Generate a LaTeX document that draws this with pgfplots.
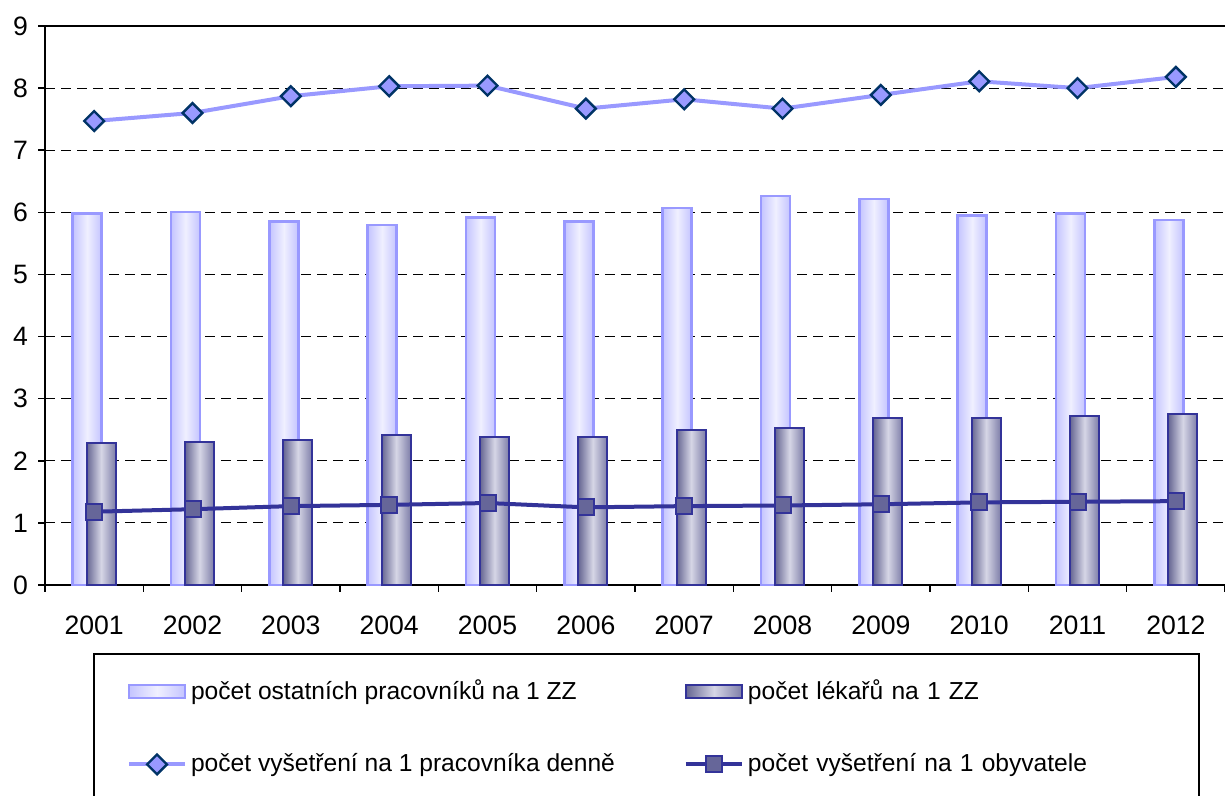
\documentclass[border=0pt]{standalone}
\usepackage{pgfplots}
\usepackage{pgfplotstable}
\pgfplotsset{compat=1.18}
\usepackage{fontspec}
\setmainfont{Liberation Sans}
\definecolor{lightbar}{HTML}{9999FF}
\definecolor{lightedge}{HTML}{C4C4FF}
\definecolor{lightmid}{HTML}{F0F0FF}
\definecolor{darkedge}{HTML}{333399}
\definecolor{darkL}{HTML}{666692}
\definecolor{darkmid}{HTML}{D6D6E6}
\definecolor{darkR}{HTML}{7E7EA8}
\definecolor{diamfill}{HTML}{9999FF}
\definecolor{diamdraw}{HTML}{003366}
\definecolor{sqfill}{HTML}{666699}

\pgfplotsset{
  lightstyle/.style={ybar, bar width=14.5pt, bar shift=-3.5pt, draw=lightbar, line width=1.2pt,
    left color=lightedge, right color=lightedge, middle color=lightmid},
  darkstyle/.style={ybar, bar width=14.5pt, bar shift=3.5pt, draw=darkedge, line width=1pt,
    left color=darkL, right color=darkR, middle color=darkmid},
  barlegend/.style={legend image code/.code={\draw[##1] (0pt,-3.25pt) rectangle (28pt,3.25pt);}},
  linelegend/.style={legend image code/.code={\draw[##1, mark repeat=2, mark phase=2] plot coordinates {(0pt,0pt) (14pt,0pt) (28pt,0pt)};}},
}

\pgfplotstableread{
x light dark exam pop
0  5.98 2.28 7.47 1.18
1  6.01 2.31 7.60 1.22
2  5.85 2.33 7.87 1.27
3  5.80 2.41 8.03 1.29
4  5.92 2.38 8.04 1.32
5  5.85 2.39 7.67 1.25
6  6.07 2.49 7.82 1.27
7  6.26 2.53 7.67 1.28
8  6.21 2.69 7.89 1.30
9  5.95 2.69 8.11 1.33
10 5.98 2.72 8.00 1.34
11 5.88 2.75 8.18 1.35
}\data

\begin{document}
\begin{tikzpicture}
\begin{axis}[
  at={(0,0)}, anchor=south west,
  scale only axis, width=590pt, height=279.5pt,
  xmin=-0.5, xmax=11.5, ymin=0, ymax=9,
  clip=false,
  axis x line*=bottom, axis y line*=left,
  axis line style={black, line width=1.1pt},
  xtick={-0.5,0.5,...,11.5},
  xticklabels={2001,2002,2003,2004,2005,2006,2007,2008,2009,2010,2011,2012},
  x tick label as interval,
  ytick={0,1,...,9},
  tick align=outside,
  major tick length=3.5pt,
  tick style={black, line width=0.8pt},
  /pgf/number format/assume math mode=true,
  ticklabel style={font=\fontsize{13.3}{15}\selectfont},
  xticklabel style={yshift=-8.5pt},
  yticklabel style={xshift=-1.5pt},
  ymajorgrids,
  major grid style={black, dash pattern=on 5pt off 3pt, line width=0.5pt},
  legend columns=2,
  legend cell align=left,
  legend style={
    at={(0.0407,-0.1217)}, anchor=north west,
    draw=black, line width=1pt,
    inner xsep=16.5pt, inner ysep=11pt,
    font=\fontsize{12.3}{14}\selectfont,
    row sep=21.5pt,
    nodes={inner sep=2pt},
    /tikz/every even column/.append style={column sep=32.5pt},
    /tikz/column 4/.style={text width=207pt},
  },
]
\pgfplotsinvokeforeach{0,1,2,3,4,5,6,7,8,9,10,11}{
  \addplot[lightstyle, forget plot] table[x=x, y=light, restrict x to domain=#1:#1]{\data};
}
\pgfplotsinvokeforeach{0,1,2,3,4,5,6,7,8,9,10,11}{
  \addplot[darkstyle, forget plot] table[x=x, y=dark, restrict x to domain=#1:#1]{\data};
}
\addlegendimage{lightstyle, barlegend}
\addlegendentry{počet ostatních pracovníků na 1 ZZ}
\addlegendimage{darkstyle, barlegend}
\addlegendentry{počet lékařů na 1 ZZ}
\addplot[color=diamfill, line width=2pt, mark=square*, mark size=3.5pt,
  mark options={rotate=45, fill=diamfill, draw=diamdraw, line width=1.2pt}, linelegend]
  table[x=x,y=exam]{\data};
\addlegendentry{počet vyšetření na 1 pracovníka denně}
\addplot[color=darkedge, line width=2pt, mark=square*, mark size=4pt,
  mark options={fill=sqfill, draw=darkedge, line width=1pt}, linelegend]
  table[x=x,y=pop]{\data};
\addlegendentry{počet vyšetření na 1 obyvatele}
\draw[black, line width=1.1pt] (rel axis cs:0,1) -- (rel axis cs:1,1);
\end{axis}
\pgfresetboundingbox
\useasboundingbox (-22.5pt,-105.5pt) rectangle (590pt,292.5pt);
\end{tikzpicture}
\end{document}
